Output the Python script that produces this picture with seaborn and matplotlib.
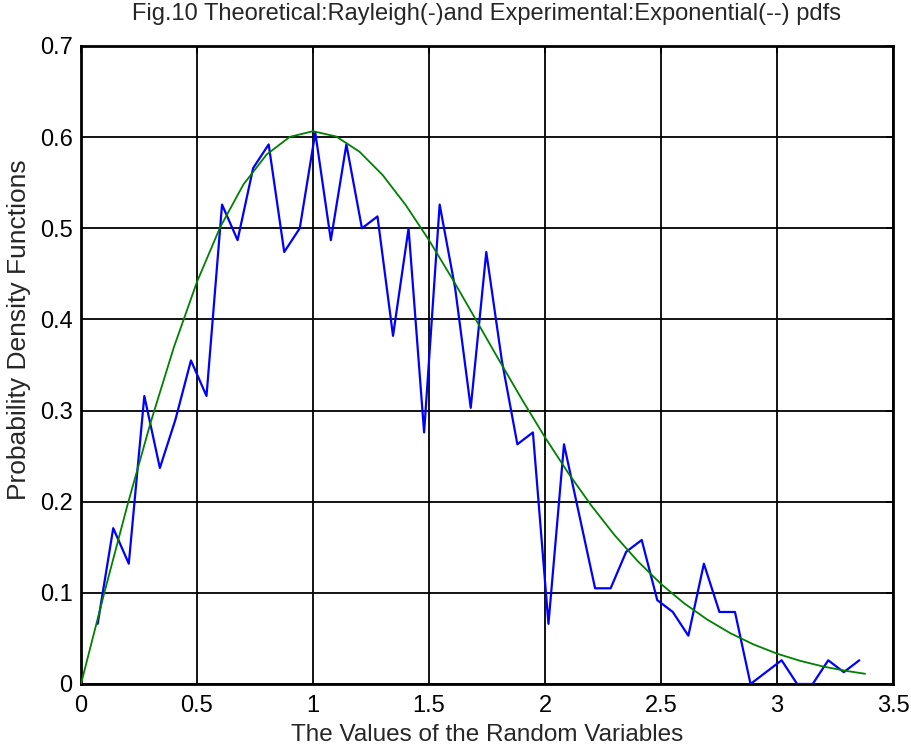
import numpy as np
import pandas as pd
import matplotlib
matplotlib.use("Agg")
import matplotlib.pyplot as plt
import seaborn as sns

# Experimental (histogram-based) pdf
exp_x = [0.072, 0.139, 0.206, 0.273, 0.340, 0.407, 0.474, 0.541, 0.608, 0.675,
         0.742, 0.809, 0.876, 0.943, 1.010, 1.077, 1.144, 1.211, 1.278, 1.345,
         1.412, 1.479, 1.546, 1.613, 1.680, 1.747, 1.814, 1.881, 1.948, 2.015,
         2.082, 2.149, 2.216, 2.283, 2.350, 2.417, 2.484, 2.551, 2.618, 2.685,
         2.752, 2.819, 2.886, 2.953, 3.020, 3.087, 3.154, 3.221, 3.288, 3.355]
exp_y = [0.066, 0.171, 0.132, 0.316, 0.237, 0.290, 0.355, 0.316, 0.526, 0.487,
         0.566, 0.592, 0.474, 0.500, 0.605, 0.487, 0.592, 0.500, 0.513, 0.382,
         0.500, 0.276, 0.526, 0.434, 0.303, 0.474, 0.355, 0.263, 0.276, 0.066,
         0.263, 0.184, 0.105, 0.105, 0.145, 0.158, 0.092, 0.079, 0.053, 0.132,
         0.079, 0.079, 0.000, 0.013, 0.026, 0.000, 0.000, 0.026, 0.013, 0.026]

# Theoretical Rayleigh pdf, sampled values
th_x = [0.0, 0.1, 0.2, 0.3, 0.4, 0.5, 0.6, 0.7, 0.8, 0.9, 1.0, 1.1, 1.2, 1.3,
        1.4, 1.5, 1.6, 1.7, 1.8, 1.9, 2.0, 2.1, 2.2, 2.3, 2.4, 2.5, 2.6, 2.7,
        2.8, 2.9, 3.0, 3.1, 3.2, 3.3, 3.38]
th_y = [0.0, 0.0995, 0.1960, 0.2867, 0.3692, 0.4412, 0.5012, 0.5480, 0.5809,
        0.6003, 0.6065, 0.6007, 0.5841, 0.5585, 0.5254, 0.4870, 0.4449, 0.4007,
        0.3562, 0.3125, 0.2707, 0.2316, 0.1957, 0.1633, 0.1347, 0.1098, 0.0885,
        0.0706, 0.0556, 0.0433, 0.0333, 0.0254, 0.0191, 0.0143, 0.0112]

x_ticks = [0, 0.5, 1, 1.5, 2, 2.5, 3, 3.5]
x_tick_labels = ["0", "0.5", "1", "1.5", "2", "2.5", "3", "3.5"]
y_ticks = [0, 0.1, 0.2, 0.3, 0.4, 0.5, 0.6, 0.7]
y_tick_labels = ["0", "0.1", "0.2", "0.3", "0.4", "0.5", "0.6", "0.7"]

title = "Fig.10 Theoretical:Rayleigh(-)and Experimental:Exponential(--) pdfs"
xlabel = "The Values of the Random Variables"
ylabel = "Probability Density Functions"

sns.set_style("white")
plt.rcParams['font.family'] = ['Liberation Sans', 'DejaVu Sans']

df_exp = pd.DataFrame({"x": exp_x, "y": exp_y})
df_th = pd.DataFrame({"x": th_x, "y": th_y})

fig = plt.figure(figsize=(9.11, 7.49), dpi=100)
ax = fig.add_axes([0.0889, 0.0868, 0.8913, 0.8518])

sns.lineplot(data=df_exp, x="x", y="y", color="#0000FF", linewidth=1.6,
             estimator=None, sort=False, ax=ax, zorder=3)
sns.lineplot(data=df_th, x="x", y="y", color="#008000", linewidth=1.3,
             estimator=None, sort=False, ax=ax, zorder=4)

ax.set_xlim(0, 3.5)
ax.set_ylim(0, 0.7)
ax.set_xticks(x_ticks)
ax.set_xticklabels(x_tick_labels)
ax.set_yticks(y_ticks)
ax.set_yticklabels(y_tick_labels)
ax.grid(True, color="black", linewidth=1.3, linestyle="-")
ax.set_axisbelow(True)
for s in ax.spines.values():
    s.set_color("black")
    s.set_linewidth(2.0)
ax.tick_params(axis="both", direction="in", length=5, width=1.2,
               labelsize=17, colors="black", top=True, right=True)
ax.tick_params(axis="x", pad=8)
ax.tick_params(axis="y", pad=6)

ax.set_title(title, fontsize=17, pad=19)
ax.set_xlabel(xlabel, fontsize=17.5, labelpad=5)
ax.set_ylabel(ylabel, fontsize=19)
ax.yaxis.set_label_coords(-0.062, 0.555)

fig.savefig("out.png", dpi=100)
